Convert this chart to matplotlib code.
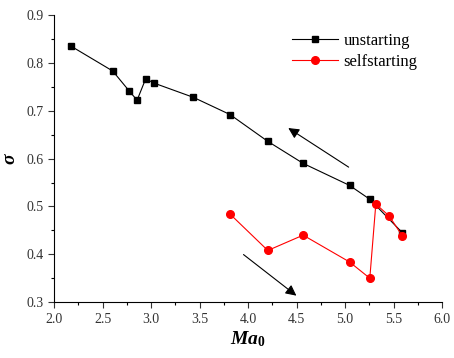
import matplotlib
matplotlib.use("Agg")
import matplotlib.pyplot as plt
from matplotlib.ticker import MultipleLocator, FormatStrFormatter

plt.rcParams['font.family'] = ['Liberation Serif', 'DejaVu Serif']
plt.rcParams['mathtext.fontset'] = 'custom'
plt.rcParams['mathtext.rm'] = 'Liberation Serif'
plt.rcParams['mathtext.it'] = 'Liberation Serif:italic'
plt.rcParams['mathtext.bf'] = 'Liberation Serif:bold'
plt.rcParams['mathtext.bfit'] = 'Liberation Serif:italic:bold'

ma_unstart = [2.175, 2.605, 2.776, 2.856, 2.945, 3.027, 3.436, 3.814, 4.203, 4.567, 5.045, 5.254, 5.59]
sigma_unstart = [0.835, 0.783, 0.741, 0.722, 0.767, 0.758, 0.728, 0.692, 0.636, 0.590, 0.544, 0.515, 0.445]

ma_self = [3.814, 4.203, 4.567, 5.045, 5.254, 5.316, 5.454, 5.59]
sigma_self = [0.484, 0.408, 0.440, 0.384, 0.350, 0.505, 0.480, 0.438]


def grafico():
    fig = plt.figure(figsize=(4.54, 3.58), dpi=100)
    ax = fig.add_axes([0.119, 0.156, 0.855, 0.802])

    ax.plot(ma_unstart, sigma_unstart, color='black', marker='s', markersize=5, linewidth=0.8, label="unstarting")
    ax.plot(ma_self, sigma_self, color='red', marker='o', markersize=5.5, linewidth=0.8, label="selfstarting")

    # arrows showing direction of Mach number change
    ax.annotate("", xy=(4.39, 0.667), xytext=(5.06, 0.579),
                arrowprops=dict(arrowstyle="-|>", color='black', lw=0.8, mutation_scale=16))
    ax.annotate("", xy=(4.52, 0.310), xytext=(3.93, 0.403),
                arrowprops=dict(arrowstyle="-|>", color='black', lw=0.8, mutation_scale=16))

    ax.set_xlim(2.0, 6.0)
    ax.set_ylim(0.3, 0.9)
    ax.xaxis.set_major_locator(MultipleLocator(0.5))
    ax.xaxis.set_minor_locator(MultipleLocator(0.25))
    ax.yaxis.set_major_locator(MultipleLocator(0.1))
    ax.yaxis.set_minor_locator(MultipleLocator(0.05))
    ax.xaxis.set_major_formatter(FormatStrFormatter('%.1f'))
    ax.yaxis.set_major_formatter(FormatStrFormatter('%.1f'))
    ax.tick_params(which='major', direction='out', length=4, width=0.8, labelsize=10, colors='#333333')
    ax.tick_params(which='minor', direction='out', length=2.5, width=0.8)
    ax.spines['top'].set_visible(False)
    ax.spines['right'].set_visible(False)

    ax.set_xlabel(r"$\mathbfit{Ma}_{\mathbf{0}}$", fontsize=14, labelpad=3)
    ax.set_ylabel("σ", fontsize=14, fontweight='bold', style='italic', labelpad=6)

    ax.legend(loc='upper right', bbox_to_anchor=(0.975, 0.99), frameon=False, fontsize=12,
              handlelength=2.8, handletextpad=0.3, labelspacing=0.3)
    fig.savefig("out.png", dpi=100)


def main():
    grafico()


if __name__ == "__main__":
    main()
